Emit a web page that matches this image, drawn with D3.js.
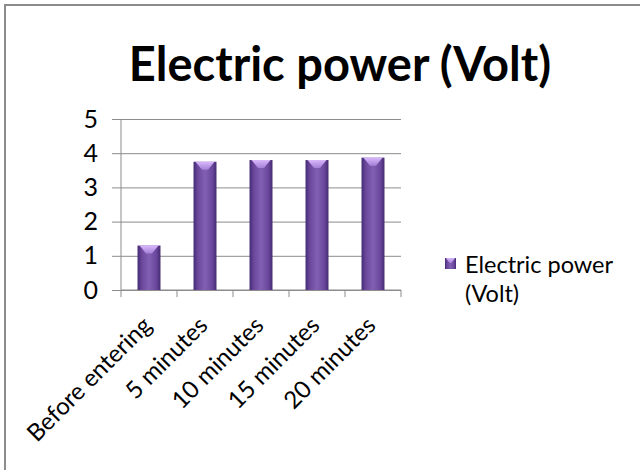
<!DOCTYPE html>
<html>
<head>
<meta charset="utf-8">
<script src="https://cdn.jsdelivr.net/npm/d3@7/dist/d3.min.js"></script>
<style>
  html, body { margin: 0; padding: 0; background: #fff; }
  svg { display: block; }
  text { font-family: Lato, "Open Sans", sans-serif; fill: #000; }
</style>
</head>
<body>
<svg id="chart" width="640" height="470"></svg>
<script>
// Chart data
const title = "Electric power (Volt)";
const categories = ["Before entering", "5 minutes", "10 minutes", "15 minutes", "20 minutes"];
const values = [1.3, 3.75, 3.8, 3.8, 3.87];
const yTicks = [0, 1, 2, 3, 4, 5];
const legendLines = ["Electric power", "(Volt)"];

const svg = d3.select("#chart");

// Outer chart frame (only top and left edges fall inside the view)
svg.append("rect")
  .attr("x", 5).attr("y", 5)
  .attr("width", 700).attr("height", 600)
  .attr("fill", "#fff")
  .attr("stroke", "#8c8c8c").attr("stroke-width", 2);

// Gradients for the bevelled bars
const defs = svg.append("defs");
const body = defs.append("linearGradient").attr("id", "barBody")
  .attr("x1", "0").attr("x2", "1").attr("y1", "0").attr("y2", "0");
[["0%", "#452a73"], ["18%", "#6a479c"], ["50%", "#8160b3"], ["82%", "#6a479c"], ["100%", "#452a73"]]
  .forEach(([o, c]) => body.append("stop").attr("offset", o).attr("stop-color", c));
const cap = defs.append("linearGradient").attr("id", "barCap")
  .attr("x1", "0").attr("x2", "0").attr("y1", "0").attr("y2", "1");
[["0%", "#d9b8fb"], ["100%", "#a47fd6"]]
  .forEach(([o, c]) => cap.append("stop").attr("offset", o).attr("stop-color", c));

// Scales
const x = d3.scaleBand().domain(categories).range([121, 401]).padding(0);
const y = d3.scaleLinear().domain([0, 5]).range([290, 119]);

// Horizontal gridlines and y axis
const yAxis = d3.axisLeft(y).tickValues(yTicks).tickSize(9).tickPadding(14)
  .tickFormat(d3.format("d"));
const gy = svg.append("g").attr("transform", "translate(121,0)").call(yAxis);
gy.select(".domain").attr("stroke", "#8c8c8c").attr("d", `M0,${y(5)}V${y(0)}`);
gy.selectAll(".tick line").attr("stroke", "#8c8c8c")
  .attr("x1", -9).attr("x2", 401 - 121);
gy.selectAll(".tick text").attr("font-size", 25).attr("fill", "#222")
  .attr("font-family", "Lato, sans-serif");

// Category axis with boundary ticks
const gx = svg.append("g").attr("transform", `translate(0,${y(0)})`);
gx.append("line").attr("x1", 121).attr("x2", 401).attr("stroke", "#8c8c8c");
const bounds = categories.map(c => x(c)).concat([x.range()[1]]);
gx.selectAll("line.tick").data(bounds).join("line").attr("class", "tick")
  .attr("x1", d => d).attr("x2", d => d).attr("y1", 0).attr("y2", 7)
  .attr("stroke", "#8c8c8c");
gx.selectAll("text").data(categories).join("text")
  .attr("transform", d => `translate(${x(d) + x.bandwidth() / 2 + 4},${37}) rotate(-45)`)
  .attr("text-anchor", "end")
  .attr("font-size", 24)
  .attr("fill", "#222")
  .text(d => d);

// Bars
const bw = x.bandwidth() * 0.41;
const bars = svg.append("g").selectAll("g").data(categories.map((c, i) => ({ c, v: values[i] })))
  .join("g");
bars.append("rect")
  .attr("x", d => x(d.c) + (x.bandwidth() - bw) / 2)
  .attr("y", d => y(d.v))
  .attr("width", bw)
  .attr("height", d => y(0) - y(d.v))
  .attr("fill", "url(#barBody)");
bars.append("path")
  .attr("d", d => {
    const x0 = x(d.c) + (x.bandwidth() - bw) / 2, t = y(d.v);
    return `M${x0 + 2},${t}H${x0 + bw - 2}L${x0 + bw / 2 + 3},${t + 8}H${x0 + bw / 2 - 3}Z`;
  })
  .attr("fill", "url(#barCap)");

// Title
svg.append("text")
  .attr("x", 340).attr("y", 81)
  .attr("text-anchor", "middle")
  .attr("font-size", 47).attr("font-weight", "bold")
  .text(title);

// Legend
const lg = svg.append("g").attr("transform", "translate(445,258)");
lg.append("rect").attr("width", 11).attr("height", 11).attr("fill", "url(#barBody)");
lg.append("path").attr("d", "M1,0H10L6.5,5H4.5Z").attr("fill", "url(#barCap)");
lg.selectAll("text").data(legendLines).join("text")
  .attr("x", 20).attr("y", (d, i) => 15 + i * 29)
  .attr("font-size", 23.5).attr("fill", "#222")
  .text(d => d);
</script>
</body>
</html>
